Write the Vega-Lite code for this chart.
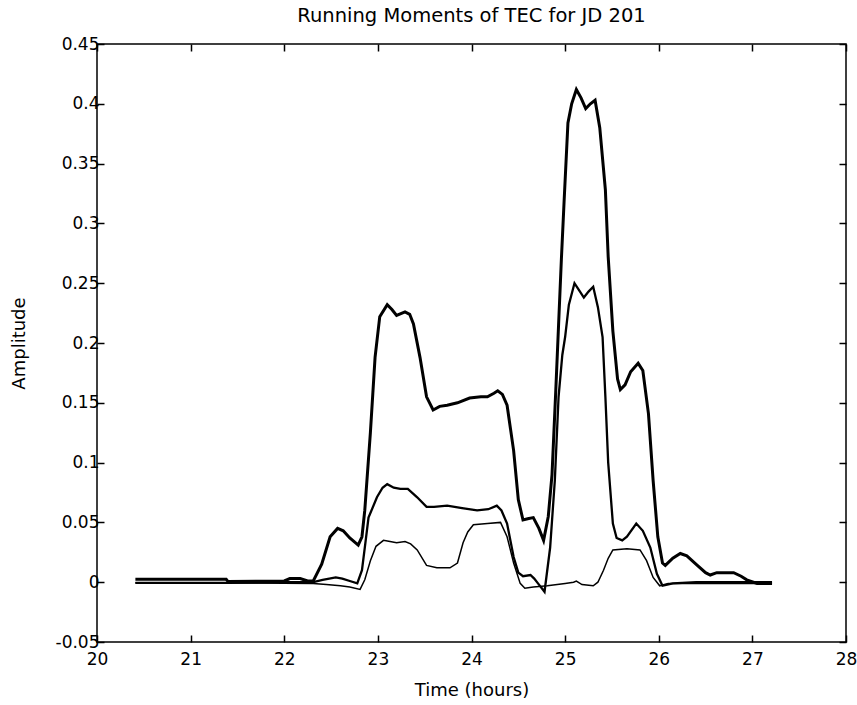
{
  "$schema": "https://vega.github.io/schema/vega-lite/v6.json",
  "autosize": "none",
  "padding": {"left": 97, "top": 44, "right": 11, "bottom": 63},
  "width": 749,
  "height": 598,
  "background": "white",
  "title": {"text": "Running Moments of TEC for JD 201", "font": "DejaVu Sans", "fontSize": 19.5, "fontWeight": "normal", "offset": -6, "frame": "group", "anchor": "middle", "baseline": "alphabetic", "color": "black"},
  "config": {
    "view": {"stroke": "black", "strokeWidth": 1.5},
    "axis": {"domain": false, "grid": false, "tickColor": "black", "tickWidth": 1.5, "tickSize": -7, "labelColor": "black", "labelFont": "DejaVu Sans", "labelFontSize": 17, "titleFont": "DejaVu Sans", "titleFontSize": 18, "titleFontWeight": "normal", "titleColor": "black", "labelFlush": false, "labelOverlap": false}
  },
  "datasets": {
    "thick": [
      {"t": 20.41, "v": 0.0025}, {"t": 21.38, "v": 0.0025}, {"t": 21.40, "v": 0.0005}, {"t": 22.00, "v": 0.001},
      {"t": 22.06, "v": 0.003}, {"t": 22.17, "v": 0.003}, {"t": 22.25, "v": 0.001}, {"t": 22.31, "v": 0.001},
      {"t": 22.40, "v": 0.015}, {"t": 22.49, "v": 0.038}, {"t": 22.57, "v": 0.045}, {"t": 22.63, "v": 0.043},
      {"t": 22.70, "v": 0.037}, {"t": 22.79, "v": 0.031}, {"t": 22.83, "v": 0.038}, {"t": 22.86, "v": 0.060},
      {"t": 22.92, "v": 0.125}, {"t": 22.97, "v": 0.188}, {"t": 23.02, "v": 0.222}, {"t": 23.10, "v": 0.232},
      {"t": 23.15, "v": 0.228}, {"t": 23.20, "v": 0.223}, {"t": 23.29, "v": 0.226}, {"t": 23.34, "v": 0.224},
      {"t": 23.38, "v": 0.216}, {"t": 23.45, "v": 0.188}, {"t": 23.52, "v": 0.155}, {"t": 23.59, "v": 0.144},
      {"t": 23.66, "v": 0.147}, {"t": 23.74, "v": 0.148}, {"t": 23.85, "v": 0.150}, {"t": 23.98, "v": 0.154},
      {"t": 24.10, "v": 0.155}, {"t": 24.17, "v": 0.155}, {"t": 24.24, "v": 0.158}, {"t": 24.28, "v": 0.160},
      {"t": 24.33, "v": 0.157}, {"t": 24.38, "v": 0.148}, {"t": 24.45, "v": 0.110}, {"t": 24.50, "v": 0.069},
      {"t": 24.55, "v": 0.052}, {"t": 24.60, "v": 0.053}, {"t": 24.66, "v": 0.054}, {"t": 24.72, "v": 0.045},
      {"t": 24.77, "v": 0.035}, {"t": 24.82, "v": 0.055}, {"t": 24.86, "v": 0.090}, {"t": 24.90, "v": 0.160},
      {"t": 24.93, "v": 0.215}, {"t": 24.96, "v": 0.270}, {"t": 24.99, "v": 0.320}, {"t": 25.03, "v": 0.384},
      {"t": 25.07, "v": 0.400}, {"t": 25.12, "v": 0.412}, {"t": 25.17, "v": 0.405}, {"t": 25.22, "v": 0.396},
      {"t": 25.27, "v": 0.400}, {"t": 25.32, "v": 0.403}, {"t": 25.37, "v": 0.380}, {"t": 25.43, "v": 0.328},
      {"t": 25.46, "v": 0.272}, {"t": 25.51, "v": 0.210}, {"t": 25.56, "v": 0.170}, {"t": 25.59, "v": 0.161},
      {"t": 25.64, "v": 0.165}, {"t": 25.70, "v": 0.176}, {"t": 25.78, "v": 0.183}, {"t": 25.83, "v": 0.177},
      {"t": 25.89, "v": 0.141}, {"t": 25.94, "v": 0.085}, {"t": 25.99, "v": 0.038}, {"t": 26.04, "v": 0.016},
      {"t": 26.07, "v": 0.014}, {"t": 26.15, "v": 0.020}, {"t": 26.23, "v": 0.024}, {"t": 26.30, "v": 0.022},
      {"t": 26.40, "v": 0.015}, {"t": 26.50, "v": 0.008}, {"t": 26.55, "v": 0.006}, {"t": 26.62, "v": 0.008},
      {"t": 26.80, "v": 0.008}, {"t": 26.88, "v": 0.005}, {"t": 26.94, "v": 0.002}, {"t": 27.05, "v": -0.001},
      {"t": 27.21, "v": -0.001}
    ],
    "mid": [
      {"t": 20.41, "v": -0.0005}, {"t": 21.40, "v": -0.0005}, {"t": 22.00, "v": 0.0}, {"t": 22.31, "v": 0.0},
      {"t": 22.41, "v": 0.002}, {"t": 22.55, "v": 0.004}, {"t": 22.62, "v": 0.003}, {"t": 22.70, "v": 0.001},
      {"t": 22.78, "v": -0.001}, {"t": 22.83, "v": 0.010}, {"t": 22.87, "v": 0.035}, {"t": 22.90, "v": 0.054},
      {"t": 22.99, "v": 0.071}, {"t": 23.05, "v": 0.079}, {"t": 23.10, "v": 0.082}, {"t": 23.17, "v": 0.079},
      {"t": 23.24, "v": 0.078}, {"t": 23.32, "v": 0.078}, {"t": 23.42, "v": 0.071}, {"t": 23.52, "v": 0.063},
      {"t": 23.60, "v": 0.063}, {"t": 23.74, "v": 0.064}, {"t": 23.90, "v": 0.062}, {"t": 24.06, "v": 0.060},
      {"t": 24.18, "v": 0.061}, {"t": 24.27, "v": 0.064}, {"t": 24.32, "v": 0.060}, {"t": 24.38, "v": 0.049},
      {"t": 24.45, "v": 0.021}, {"t": 24.50, "v": 0.008}, {"t": 24.55, "v": 0.005}, {"t": 24.63, "v": 0.006},
      {"t": 24.67, "v": 0.003}, {"t": 24.71, "v": -0.001}, {"t": 24.78, "v": -0.008}, {"t": 24.84, "v": 0.029},
      {"t": 24.89, "v": 0.085}, {"t": 24.93, "v": 0.155}, {"t": 24.97, "v": 0.190}, {"t": 25.00, "v": 0.205},
      {"t": 25.04, "v": 0.232}, {"t": 25.10, "v": 0.250}, {"t": 25.15, "v": 0.244}, {"t": 25.20, "v": 0.238},
      {"t": 25.25, "v": 0.243}, {"t": 25.30, "v": 0.247}, {"t": 25.35, "v": 0.230}, {"t": 25.40, "v": 0.205},
      {"t": 25.43, "v": 0.155}, {"t": 25.46, "v": 0.100}, {"t": 25.51, "v": 0.049}, {"t": 25.55, "v": 0.037},
      {"t": 25.61, "v": 0.035}, {"t": 25.66, "v": 0.038}, {"t": 25.76, "v": 0.049}, {"t": 25.83, "v": 0.043},
      {"t": 25.91, "v": 0.029}, {"t": 25.98, "v": 0.007}, {"t": 26.04, "v": -0.003}, {"t": 26.15, "v": -0.001},
      {"t": 26.40, "v": 0.0}, {"t": 27.21, "v": 0.0}
    ],
    "thin": [
      {"t": 20.41, "v": -0.0005}, {"t": 21.40, "v": -0.0005}, {"t": 22.31, "v": -0.001}, {"t": 22.45, "v": -0.002},
      {"t": 22.60, "v": -0.003}, {"t": 22.70, "v": -0.004}, {"t": 22.81, "v": -0.006}, {"t": 22.86, "v": 0.002},
      {"t": 22.92, "v": 0.018}, {"t": 22.98, "v": 0.030}, {"t": 23.06, "v": 0.035}, {"t": 23.13, "v": 0.034},
      {"t": 23.20, "v": 0.033}, {"t": 23.29, "v": 0.034}, {"t": 23.35, "v": 0.032}, {"t": 23.42, "v": 0.027},
      {"t": 23.52, "v": 0.014}, {"t": 23.63, "v": 0.012}, {"t": 23.77, "v": 0.012}, {"t": 23.85, "v": 0.016},
      {"t": 23.91, "v": 0.033}, {"t": 23.96, "v": 0.042}, {"t": 24.02, "v": 0.048}, {"t": 24.17, "v": 0.049},
      {"t": 24.31, "v": 0.050}, {"t": 24.38, "v": 0.038}, {"t": 24.45, "v": 0.016}, {"t": 24.52, "v": -0.001},
      {"t": 24.57, "v": -0.005}, {"t": 24.66, "v": -0.004}, {"t": 24.81, "v": -0.003}, {"t": 25.00, "v": -0.001},
      {"t": 25.09, "v": 0.000}, {"t": 25.12, "v": 0.001}, {"t": 25.18, "v": -0.002}, {"t": 25.30, "v": -0.003},
      {"t": 25.35, "v": 0.000}, {"t": 25.41, "v": 0.010}, {"t": 25.46, "v": 0.020}, {"t": 25.51, "v": 0.027},
      {"t": 25.66, "v": 0.028}, {"t": 25.80, "v": 0.027}, {"t": 25.87, "v": 0.018}, {"t": 25.94, "v": 0.004},
      {"t": 26.01, "v": -0.003}, {"t": 26.10, "v": -0.001}, {"t": 27.21, "v": -0.001}
    ]
  },
  "layer": [
    {
      "data": {"name": "thick"},
      "mark": {"type": "line", "color": "black", "strokeWidth": 3},
      "encoding": {
        "x": {"field": "t", "type": "quantitative", "scale": {"domain": [20, 28], "nice": false, "zero": false},
              "axis": {"orient": "bottom", "values": [20, 21, 22, 23, 24, 25, 26, 27, 28], "format": "d", "labelPadding": 16, "title": "Time (hours)", "titlePadding": 14}},
        "y": {"field": "v", "type": "quantitative", "scale": {"domain": [-0.05, 0.45], "nice": false, "zero": false},
              "axis": {"orient": "left", "values": [-0.05, 0, 0.05, 0.1, 0.15, 0.2, 0.25, 0.3, 0.35, 0.4, 0.45], "labelExpr": "replace(format(datum.value, '.2~f'), '\u2212', '-')", "labelPadding": 5, "title": "Amplitude", "titlePadding": 27}}
      }
    },
    {
      "data": {"name": "mid"},
      "mark": {"type": "line", "color": "black", "strokeWidth": 2.3},
      "encoding": {
        "x": {"field": "t", "type": "quantitative", "axis": null},
        "y": {"field": "v", "type": "quantitative", "axis": null}
      }
    },
    {
      "data": {"name": "thin"},
      "mark": {"type": "line", "color": "black", "strokeWidth": 1.5},
      "encoding": {
        "x": {"field": "t", "type": "quantitative", "axis": null},
        "y": {"field": "v", "type": "quantitative", "axis": null}
      }
    },
    {
      "data": {"name": "thin"},
      "mark": {"type": "line", "color": "black", "strokeOpacity": 0},
      "encoding": {
        "x": {"field": "t", "type": "quantitative",
              "axis": {"orient": "top", "values": [20, 21, 22, 23, 24, 25, 26, 27, 28], "labels": false, "title": null}},
        "y": {"field": "v", "type": "quantitative",
              "axis": {"orient": "right", "values": [-0.05, 0, 0.05, 0.1, 0.15, 0.2, 0.25, 0.3, 0.35, 0.4, 0.45], "labels": false, "title": null}}
      }
    }
  ],
  "resolve": {"axis": {"x": "independent", "y": "independent"}}
}
